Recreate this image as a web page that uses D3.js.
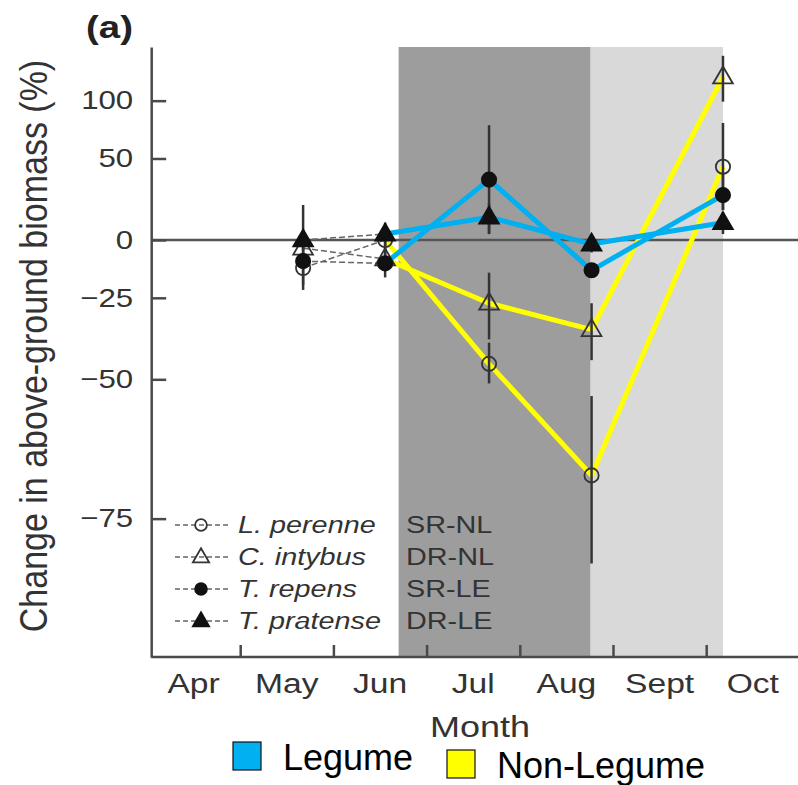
<!DOCTYPE html>
<html>
<head>
<meta charset="utf-8">
<script src="https://cdn.jsdelivr.net/npm/d3@7"></script>
<style>
  body { margin: 0; background: #fff; }
  svg { display: block; font-family: "Liberation Sans", Arial, sans-serif; }
</style>
</head>
<body>
<svg id="chart" width="798" height="785"></svg>
<script>
// months counted from 1 April (0 = Apr 1, 1 = May 1, ...)
const sampleMonths = [1.675, 2.555, 3.67, 4.77, 6.18];
const monthLabels = ["Apr", "May", "Jun", "Jul", "Aug", "Sept", "Oct"];
const yTickValues = [100, 50, 0, -25, -50, -75];

const species = ["L. perenne", "C. intybus", "T. repens", "T. pratense"];
const codes = ["SR-NL", "DR-NL", "SR-LE", "DR-LE"];
const groups = ["Non-Legume", "Non-Legume", "Legume", "Legume"];

// change in above-ground biomass (%) and error bar limits
const perenneVals = [-13, 0, -46, -69, 44];
const perenneLo = [-22, -5, -51, -80, 16];
const perenneHi = [-6, 5, -40, -54, 79];
const intybusVals = [-4, -9, -27, -36, 125];
const intybusLo = [-10, -14, -39, -45, 99];
const intybusHi = [2, -3, -15, -27, 150];
const repensVals = [-10, -11, 35, -14, 25];
const repensLo = [-20, -17, 3, -17, 16];
const repensHi = [-2, -5, 77, -11, 40];
const pratenseVals = [0, 3, 12, -2, 9];
const pratenseLo = [-5, -3, 3, -6, 3];
const pratenseHi = [19, 9, 20, 1, 15];

// shaded periods (months from 1 April)
const darkPeriod = [2.70, 4.76];
const lightPeriod = [4.76, 6.18];

const legendGroups = ["Legume", "Non-Legume"];
const groupColor = {"Legume": "#00b0f0", "Non-Legume": "#ffff00"};

const series = [
  {vals: perenneVals, lo: perenneLo, hi: perenneHi, shape: "circle", filled: false},
  {vals: intybusVals, lo: intybusLo, hi: intybusHi, shape: "triangle", filled: false},
  {vals: repensVals, lo: repensLo, hi: repensHi, shape: "circle", filled: true},
  {vals: pratenseVals, lo: pratenseLo, hi: pratenseHi, shape: "triangle", filled: true}
].map((s, i) => ({...s, name: species[i], code: codes[i], group: groups[i]}));

const svg = d3.select("#chart");
const AXIS = "#4a4a4a";
const SX = 1.2; // the figure text is drawn a little wide

const x = d3.scaleLinear().domain([0, 7]).range([147, 799.4]);
const X_MIN = 0.045;
// log-ratio scale: value v (%) sits at log(1 + v/100)
const yLog = d3.scaleLog().domain([0.1256, 2.612]).range([657, 47]);
const y = v => yLog(1 + v / 100);

const plotLeft = x(X_MIN), plotBottom = 657, plotTop = 47;

const wideText = (parent, px, py, str, size, anchor, extra) => {
  const t = parent.append("text")
    .attr("transform", `translate(${px},${py}) scale(${SX},1)`)
    .attr("text-anchor", anchor)
    .attr("font-size", size)
    .attr("fill", "#333")
    .text(str);
  if (extra) extra(t);
  return t;
};

// shading
svg.append("rect")
  .attr("x", x(darkPeriod[0])).attr("y", plotTop)
  .attr("width", x(darkPeriod[1]) - x(darkPeriod[0]))
  .attr("height", plotBottom - plotTop)
  .attr("fill", "#9d9d9d");
svg.append("rect")
  .attr("x", x(lightPeriod[0])).attr("y", plotTop)
  .attr("width", x(lightPeriod[1]) - x(lightPeriod[0]))
  .attr("height", plotBottom - plotTop)
  .attr("fill", "#d9d9d9");

// zero line
svg.append("line")
  .attr("x1", plotLeft).attr("x2", 798)
  .attr("y1", y(0)).attr("y2", y(0))
  .attr("stroke", "#555").attr("stroke-width", 2.5);

// y axis
const yAxis = d3.axisLeft(yLog)
  .tickValues(yTickValues.map(v => 1 + v / 100))
  .tickFormat(r => {
    const v = Math.round((r - 1) * 100);
    return v < 0 ? "\u2212" + Math.abs(v) : String(v);
  })
  .tickSizeInner(-15).tickSizeOuter(0).tickPadding(15);
const gy = svg.append("g").attr("transform", `translate(${plotLeft},0)`).call(yAxis);
gy.select(".domain").attr("stroke", AXIS).attr("stroke-width", 2.5);
gy.selectAll(".tick line").attr("stroke", AXIS).attr("stroke-width", 2.5);
gy.selectAll(".tick text")
  .attr("font-size", 26).attr("fill", "#333")
  .attr("font-family", "Liberation Sans, Arial, sans-serif")
  .attr("transform", `scale(${SX},1)`);

// x axis
const xAxis = d3.axisBottom(x)
  .tickValues([1, 2, 3, 4, 5, 6])
  .tickFormat("")
  .tickSizeInner(-12).tickSizeOuter(0);
const gx = svg.append("g").attr("transform", `translate(0,${plotBottom})`).call(xAxis);
gx.select(".domain").attr("d", `M${plotLeft},0H798`).attr("stroke", AXIS).attr("stroke-width", 2.5);
gx.selectAll(".tick line").attr("stroke", AXIS).attr("stroke-width", 2.5);

monthLabels.forEach((m, i) => wideText(svg, x(i + 0.5), 693, m, 28, "middle"));
wideText(svg, 480, 737, "Month", 30, "middle");

// y title
svg.append("text")
  .attr("transform", `translate(47,346) scale(1.12,1) rotate(-90)`)
  .attr("text-anchor", "middle")
  .attr("font-size", 34).attr("fill", "#333")
  .text("Change in above-ground biomass (%)");

wideText(svg, 86, 38, "(a)", 32, "start", t => t.attr("font-weight", "bold").attr("fill", "#222"));

// markers
const triPath = s => `M0,${-s * 0.62}L${s * 0.58},${s * 0.38}L${-s * 0.58},${s * 0.38}Z`;
const drawMarker = (g, sr, px, py, size) => {
  const stroke = "#333";
  if (sr.shape === "circle") {
    g.append("circle").attr("cx", px).attr("cy", py).attr("r", size * 0.42)
      .attr("fill", sr.filled ? "#111" : "none")
      .attr("stroke", sr.filled ? "#111" : stroke).attr("stroke-width", 1.8);
  } else {
    g.append("path").attr("d", triPath(size)).attr("transform", `translate(${px},${py})`)
      .attr("fill", sr.filled ? "#111" : "none")
      .attr("stroke", sr.filled ? "#111" : stroke).attr("stroke-width", 1.8);
  }
};

// dashed base lines (all samples)
const dashLine = d3.line().x((d, i) => x(sampleMonths[i])).y(d => y(d));
series.forEach(sr => {
  svg.append("path").attr("d", dashLine(sr.vals))
    .attr("fill", "none").attr("stroke", "#666")
    .attr("stroke-width", 1.5).attr("stroke-dasharray", "6,3");
});

// coloured overlay lines from June onward
const colourLine = d3.line()
  .x(d => x(d.m)).y(d => y(d.v));
series.forEach(sr => {
  const pts = sr.vals.map((v, i) => ({m: sampleMonths[i], v})).slice(1);
  svg.append("path").attr("d", colourLine(pts))
    .attr("fill", "none").attr("stroke", groupColor[sr.group])
    .attr("stroke-width", 5).attr("stroke-linejoin", "round");
});

// error bars and points
series.forEach(sr => {
  const g = svg.append("g");
  sr.vals.forEach((v, i) => {
    g.append("line")
      .attr("x1", x(sampleMonths[i])).attr("x2", x(sampleMonths[i]))
      .attr("y1", y(sr.lo[i])).attr("y2", y(sr.hi[i]))
      .attr("stroke", "#333").attr("stroke-width", 2.5);
  });
});
series.forEach(sr => {
  const g = svg.append("g");
  sr.vals.forEach((v, i) => drawMarker(g, sr, x(sampleMonths[i]), y(v), 17));
});

// inner legend
const legY = [525, 557, 589, 621];
series.forEach((sr, i) => {
  const g = svg.append("g");
  g.append("line").attr("x1", 175).attr("x2", 228).attr("y1", legY[i]).attr("y2", legY[i])
    .attr("stroke", "#666").attr("stroke-width", 1.5).attr("stroke-dasharray", "5,3");
  drawMarker(g, sr, 201, legY[i], 14);
  wideText(g, 238, legY[i] + 8, sr.name, 24, "start", t => t.attr("font-style", "italic"));
  wideText(g, 406, legY[i] + 8, sr.code, 24, "start");
});

// bottom legend
const legendX = [233, 447];
const legendTop = [742, 750];
legendGroups.forEach((grp, i) => {
  svg.append("rect").attr("x", legendX[i]).attr("y", legendTop[i])
    .attr("width", 28).attr("height", 28)
    .attr("fill", groupColor[grp]).attr("stroke", "#111").attr("stroke-width", 1.2);
  svg.append("text").attr("x", legendX[i] + 50).attr("y", legendTop[i] + 28)
    .attr("font-size", 36).attr("fill", "#000").text(grp);
});
</script>
</body>
</html>
